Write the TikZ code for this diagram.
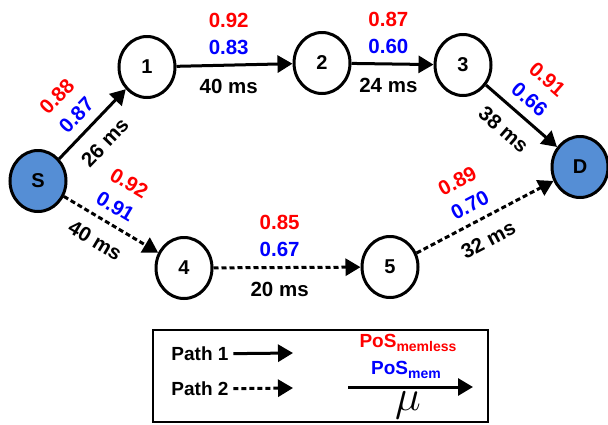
\documentclass[tikz,border=0pt]{standalone}
\usepackage{amsmath}
\usepackage{graphicx}
\usepackage{fontspec}
\setmainfont{Liberation Sans}
\usepackage{tikz}
\usepackage{xcolor}
\usetikzlibrary{arrows.meta,shapes.geometric}
\definecolor{nodeblue}{RGB}{85,142,213}

\begin{document}
\begin{tikzpicture}[x=1pt,y=-1pt,->,>={Triangle[length=15pt,width=17pt]},
  line width=3pt,
  main node/.style={ellipse,draw,minimum width=56pt,minimum height=61pt,inner sep=0pt,font=\fontsize{20}{22}\selectfont\bfseries},
  end node/.style={main node,fill=nodeblue},
  path2/.style={dash pattern=on 5pt off 3pt},
  prob/.style={pos=0.45,above=7pt},
  delay/.style={pos=0.45,below=11pt}]

  \useasboundingbox (0,0) rectangle (608,424);

  \node[end node] (S) at (38,181) {S};
  \node[main node] (1) at (147,67) {1};
  \node[main node] (2) at (322,63) {2};
  \node[main node] (3) at (463,65) {3};
  \node[end node] (D) at (580,167) {D};
  \node[main node] (4) at (184,268) {4};
  \node[main node] (5) at (390,267) {5};

  \path[every node/.style={font=\fontsize{20.5}{27}\selectfont\bfseries,inner sep=2pt,align=center}]
     (S) edge node[prob,sloped] {\textcolor{red}{0.88}\\\textcolor{blue}{0.87}}
              node[delay,sloped] {26 ms} (1)
     (1) edge node[prob] {\textcolor{red}{0.92}\\\textcolor{blue}{0.83}}
              node[delay] {40 ms} (2)
     (2) edge node[prob] {\textcolor{red}{0.87}\\\textcolor{blue}{0.60}}
              node[delay] {24 ms} (3)
     (3) edge node[prob,sloped] {\textcolor{red}{0.91}\\\textcolor{blue}{0.66}}
              node[delay,sloped] {38 ms} (D)
     (S) edge[path2] node[prob,sloped] {\textcolor{red}{0.92}\\\textcolor{blue}{0.91}}
              node[delay,sloped] {40 ms} (4)
     (4) edge[path2] node[prob] {\textcolor{red}{0.85}\\\textcolor{blue}{0.67}}
              node[delay] {20 ms} (5)
     (5) edge[path2] node[prob,sloped] {\textcolor{red}{0.89}\\\textcolor{blue}{0.70}}
              node[delay,sloped] {32 ms} (D);

  % legend
  \node[draw,line width=1.4pt,minimum width=335pt,minimum height=92pt,inner sep=0pt] (legend) at (320.5,376) {};
  \begin{scope}[every node/.style={font=\fontsize{19}{20}\selectfont\bfseries}]
    \node (path1) at (200,354) {Path 1};
    \node (path2) at (200,389) {Path 2};
    \node[text=red] (memless) at (408,343) {PoS\raisebox{-4pt}{\fontsize{14}{14}\selectfont memless}};
    \node[text=blue] (mem) at (406,370) {PoS\raisebox{-4pt}{\fontsize{14}{14}\selectfont mem}};
    \node (mu) at (408,405) {\fontsize{24}{24}\selectfont\scalebox{1.75}{$\mu$}};
  \end{scope}
  \coordinate (p1end) at (293,353);
  \coordinate (p2end) at (293,388);
  \coordinate (mustart) at (348,387);
  \coordinate (muend) at (473,387);
  \draw (path1) -- (p1end);
  \draw[path2] (path2) -- (p2end);
  \draw (mustart) -- (muend);
\end{tikzpicture}
\end{document}
